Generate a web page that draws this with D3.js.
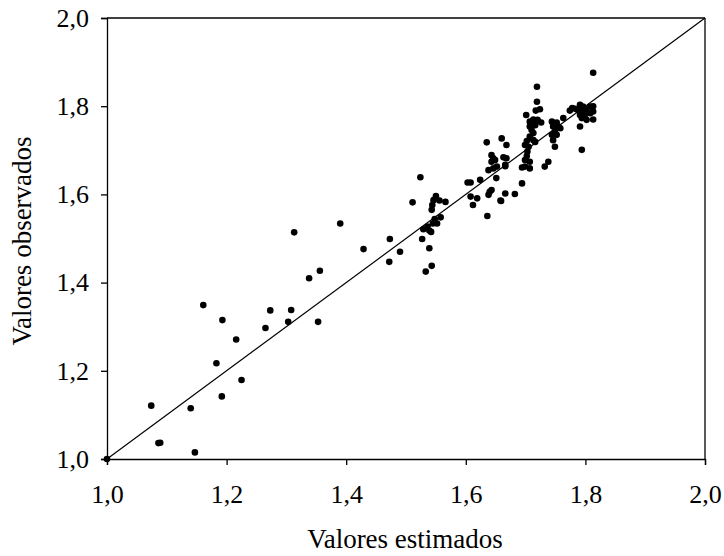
<!DOCTYPE html>
<meta charset="utf-8">
<style>
    body { margin: 0; background: #fff; }
    .axis path, .axis line { stroke: #000; stroke-width: 1.3px; }
</style>
<body>
<div id="chart"></div>
<script src="https://d3js.org/d3.v7.min.js"></script>
<script>
// valores estimados (x) y observados (y)
var estimados = [
    1.000, 1.074, 1.086, 1.089, 1.140, 1.147, 1.161, 1.183, 1.192, 1.193,
    1.216, 1.225, 1.265, 1.273, 1.303, 1.308, 1.338, 1.356, 1.353, 1.313,
    1.390, 1.429, 1.472, 1.473, 1.490, 1.511, 1.524, 1.527, 1.533, 1.543,
    1.539, 1.529, 1.536, 1.539, 1.542, 1.545, 1.548, 1.552, 1.558, 1.543,
    1.544, 1.546, 1.550, 1.556, 1.566, 1.603, 1.608, 1.608, 1.612, 1.619,
    1.636, 1.638, 1.640, 1.643, 1.659, 1.666, 1.682, 1.694, 1.651, 1.638,
    1.646, 1.652, 1.666, 1.694, 1.707, 1.732, 1.738, 1.719, 1.719, 1.724,
    1.717, 1.701, 1.707, 1.713, 1.720, 1.726, 1.707, 1.716, 1.710, 1.713,
    1.707, 1.713, 1.702, 1.699, 1.705, 1.703, 1.702, 1.699, 1.707, 1.699,
    1.716, 1.744, 1.752, 1.746, 1.755, 1.749, 1.744, 1.752, 1.746, 1.749,
    1.758, 1.763, 1.774, 1.791, 1.796, 1.788, 1.794, 1.801, 1.808, 1.813,
    1.791, 1.799, 1.808, 1.813, 1.794, 1.802, 1.813, 1.791, 1.794, 1.813,
    1.635, 1.660, 1.668, 1.643, 1.646, 1.643, 1.649, 1.663, 1.668, 1.666,
    1.624, 1.658, 1.778, 1.783
];
var observados = [
    1.000, 1.121, 1.036, 1.037, 1.115, 1.015, 1.349, 1.217, 1.142, 1.315,
    1.271, 1.179, 1.297, 1.337, 1.311, 1.338, 1.410, 1.427, 1.311, 1.514,
    1.534, 1.476, 1.447, 1.499, 1.470, 1.582, 1.639, 1.499, 1.425, 1.438,
    1.478, 1.521, 1.527, 1.518, 1.515, 1.534, 1.544, 1.534, 1.548, 1.565,
    1.576, 1.587, 1.596, 1.586, 1.583, 1.627, 1.627, 1.595, 1.576, 1.591,
    1.551, 1.599, 1.606, 1.610, 1.585, 1.602, 1.601, 1.625, 1.637, 1.655,
    1.659, 1.663, 1.664, 1.661, 1.659, 1.663, 1.674, 1.844, 1.810, 1.793,
    1.790, 1.780, 1.765, 1.770, 1.769, 1.763, 1.754, 1.757, 1.746, 1.739,
    1.731, 1.723, 1.721, 1.712, 1.708, 1.697, 1.687, 1.678, 1.674, 1.663,
    1.719, 1.765, 1.763, 1.754, 1.754, 1.742, 1.735, 1.735, 1.723, 1.708,
    1.750, 1.773, 1.790, 1.803, 1.799, 1.791, 1.788, 1.793, 1.799, 1.800,
    1.780, 1.780, 1.784, 1.788, 1.773, 1.769, 1.770, 1.754, 1.701, 1.876,
    1.718, 1.727, 1.712, 1.689, 1.682, 1.674, 1.678, 1.684, 1.682, 1.667,
    1.633, 1.586, 1.796, 1.794
];
var ticks = [1.0, 1.2, 1.4, 1.6, 1.8, 2.0];
var tickLabels = ["1,0", "1,2", "1,4", "1,6", "1,8", "2,0"];

var serif = "'Liberation Serif', 'DejaVu Serif', serif";

var width = 724,
    height = 556;

var x = d3.scaleLinear().domain([1, 2]).range([107, 705]);
var y = d3.scaleLinear().domain([1, 2]).range([459, 18]);

var svg = d3.select("#chart").append("svg")
    .attr("width", width)
    .attr("height", height);

// marco superior y derecho
svg.append("line")
    .attr("x1", x(1)).attr("x2", x(2))
    .attr("y1", y(2)).attr("y2", y(2))
    .style("stroke", "#000").style("stroke-width", 1.3);
svg.append("line")
    .attr("x1", x(2)).attr("x2", x(2))
    .attr("y1", y(1)).attr("y2", y(2))
    .style("stroke", "#000").style("stroke-width", 1.3);

var fmt = function(d, i) { return tickLabels[i]; };

var gx = svg.append("g")
    .attr("class", "axis")
    .attr("transform", "translate(0," + y(1) + ")")
    .call(d3.axisBottom(x).tickValues(ticks).tickFormat(fmt).tickSizeOuter(0).tickSize(6).tickPadding(20));

var gy = svg.append("g")
    .attr("class", "axis")
    .attr("transform", "translate(" + x(1) + ",0)")
    .call(d3.axisLeft(y).tickValues(ticks).tickFormat(fmt).tickSizeOuter(0).tickSize(6).tickPadding(12));

[gx, gy].forEach(function(g) {
    g.attr("font-family", serif).attr("font-size", 26);
    g.selectAll("text").style("font-family", serif).style("font-size", "26px").style("fill", "#000");
});

// linea 1:1
svg.append("line")
    .attr("x1", x(1)).attr("y1", y(1))
    .attr("x2", x(2)).attr("y2", y(2))
    .style("stroke", "#000").style("stroke-width", 1.2);

svg.append("g").selectAll("circle")
    .data(d3.range(estimados.length))
    .enter().append("circle")
    .attr("cx", function(i) { return x(estimados[i]); })
    .attr("cy", function(i) { return y(observados[i]); })
    .attr("r", 3.3)
    .style("fill", "#000");

svg.append("text")
    .attr("x", 405).attr("y", 548)
    .attr("text-anchor", "middle")
    .style("font-family", serif).style("font-size", "27px")
    .text("Valores estimados");

svg.append("text")
    .attr("transform", "translate(31,241) rotate(-90)")
    .attr("text-anchor", "middle")
    .style("font-family", serif).style("font-size", "27px")
    .text("Valores observados");
</script>
</body>
</html>
